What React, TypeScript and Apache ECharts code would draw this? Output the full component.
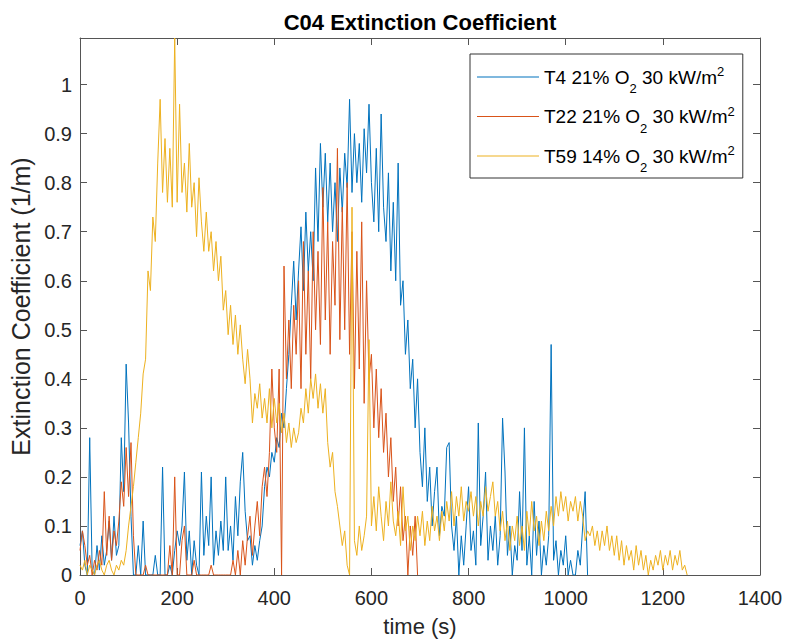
import React, { useEffect, useRef } from 'react';
import * as echarts from 'echarts';

const STEP = 5;

// T4 21% O2 30 kW/m2 (blue), t = 0 .. 1045 s
const T4 = [
  0.06, 0.09, 0.02, 0.00, 0.28, 0.01, 0.00, 0.06, 0.01, 0.08,
  0.02, 0.05, 0.11, 0.03, 0.12, 0.04, 0.06, 0.28, 0.17, 0.43,
  0.31, 0.12, 0.00, 0.00, 0.06, 0.00, 0.11, 0.00, 0.00, 0.00,
  0.00, 0.04, 0.00, 0.00, 0.22, 0.00, 0.00, 0.02, 0.00, 0.05,
  0.09, 0.06, 0.10, 0.21, 0.03, 0.09, 0.00, 0.07, 0.02, 0.00,
  0.21, 0.04, 0.12, 0.06, 0.20, 0.02, 0.09, 0.04, 0.11, 0.05,
  0.20, 0.05, 0.10, 0.03, 0.16, 0.08, 0.19, 0.25, 0.13, 0.07,
  0.08, 0.02, 0.06, 0.03, 0.07, 0.10, 0.18, 0.22, 0.20, 0.25,
  0.23, 0.28, 0.26, 0.33, 0.30, 0.38, 0.45, 0.55, 0.64, 0.52,
  0.62, 0.71, 0.58, 0.74, 0.62, 0.70, 0.60, 0.83, 0.68, 0.88,
  0.75, 0.86, 0.72, 0.84, 0.70, 0.80, 0.68, 0.83, 0.74, 0.86,
  0.79, 0.97, 0.78, 0.90, 0.80, 0.88, 0.76, 0.91, 0.82, 0.96,
  0.80, 0.72, 0.87, 0.70, 0.94, 0.75, 0.68, 0.82, 0.62, 0.76,
  0.60, 0.84, 0.55, 0.60, 0.45, 0.52, 0.38, 0.44, 0.30, 0.40,
  0.25, 0.18, 0.30, 0.15, 0.22, 0.10, 0.17, 0.22, 0.08, 0.14,
  0.12, 0.26, 0.27, 0.10, 0.05, 0.12, 0.00, 0.08, 0.02, 0.10,
  0.18, 0.05, 0.09, 0.02, 0.31, 0.06, 0.12, 0.21, 0.03, 0.10,
  0.05, 0.12, 0.02, 0.08, 0.32, 0.21, 0.04, 0.10, 0.00, 0.06,
  0.03, 0.17, 0.05, 0.30, 0.02, 0.08, 0.00, 0.15, 0.04, 0.11,
  0.00, 0.06, 0.02, 0.08, 0.47, 0.03, 0.07, 0.00, 0.05, 0.02,
  0.08, 0.00, 0.03, 0.00, 0.00, 0.05, 0.02, 0.10, 0.17, 0.00,
];

// T22 21% O2 30 kW/m2 (orange), t = 0 .. 695 s
const T22 = [
  0.05, 0.09, 0.06, 0.02, 0.04, 0.00, 0.03, 0.01, 0.05, 0.02,
  0.17, 0.04, 0.12, 0.03, 0.09, 0.06, 0.11, 0.19, 0.14, 0.26,
  0.16, 0.27, 0.08, 0.00, 0.00, 0.00, 0.00, 0.02, 0.00, 0.00,
  0.00, 0.00, 0.00, 0.00, 0.00, 0.00, 0.00, 0.06, 0.00, 0.20,
  0.00, 0.00, 0.07, 0.10, 0.00, 0.00, 0.00, 0.03, 0.00, 0.00,
  0.00, 0.00, 0.00, 0.00, 0.02, 0.00, 0.00, 0.00, 0.00, 0.00,
  0.00, 0.00, 0.00, 0.03, 0.00, 0.05, 0.00, 0.07, 0.02, 0.08,
  0.12, 0.04, 0.10, 0.15, 0.08, 0.18, 0.22, 0.16, 0.25, 0.42,
  0.30, 0.25, 0.42, 0.00, 0.63, 0.40, 0.52, 0.38, 0.55, 0.45,
  0.60, 0.38, 0.68, 0.45, 0.62, 0.40, 0.70, 0.50, 0.66, 0.47,
  0.79, 0.52, 0.72, 0.45, 0.68, 0.55, 0.87, 0.48, 0.75, 0.50,
  0.80, 0.45, 0.70, 0.38, 0.66, 0.42, 0.72, 0.35, 0.60, 0.40,
  0.45, 0.30, 0.42, 0.28, 0.38, 0.25, 0.33, 0.20, 0.28, 0.15,
  0.22, 0.10, 0.18, 0.07, 0.12, 0.00, 0.10, 0.04, 0.12, 0.00,
];

// T59 14% O2 30 kW/m2 (yellow), t = 0 .. 1250 s
const T59 = [
  0.02, 0.01, 0.03, 0.00, 0.02, 0.01, 0.00, 0.02, 0.03, 0.01,
  0.00, 0.02, 0.03, 0.01, 0.00, 0.02, 0.01, 0.03, 0.02, 0.05,
  0.10, 0.14, 0.18, 0.23, 0.28, 0.33, 0.41, 0.44, 0.62, 0.58,
  0.73, 0.68, 0.84, 0.97, 0.78, 0.89, 0.76, 0.87, 0.75, 1.095,
  0.76, 0.96, 0.78, 0.84, 0.74, 0.88, 0.75, 0.80, 0.69, 0.81,
  0.72, 0.66, 0.74, 0.66, 0.70, 0.62, 0.68, 0.60, 0.65, 0.54,
  0.58, 0.49, 0.55, 0.47, 0.53, 0.45, 0.51, 0.44, 0.39, 0.46,
  0.40, 0.31, 0.37, 0.34, 0.39, 0.32, 0.36, 0.31, 0.38, 0.30,
  0.36, 0.31, 0.35, 0.29, 0.33, 0.27, 0.31, 0.26, 0.30, 0.27,
  0.29, 0.34, 0.31, 0.38, 0.33, 0.40, 0.36, 0.41, 0.34, 0.39,
  0.33, 0.38, 0.27, 0.22, 0.25, 0.17, 0.14, 0.10, 0.06, 0.09,
  0.02, 0.00, 0.75, 0.07, 0.04, 0.10, 0.05, 0.08, 0.12, 0.48,
  0.10, 0.16, 0.09, 0.18, 0.12, 0.07, 0.15, 0.10, 0.19, 0.11,
  0.08, 0.13, 0.06, 0.18, 0.09, 0.12, 0.05, 0.10, 0.07, 0.12,
  0.08, 0.13, 0.06, 0.11, 0.07, 0.14, 0.09, 0.12, 0.07, 0.13,
  0.09, 0.15, 0.11, 0.17, 0.10, 0.16, 0.12, 0.18, 0.11, 0.15,
  0.13, 0.17, 0.12, 0.16, 0.10, 0.15, 0.12, 0.18, 0.13, 0.16,
  0.19, 0.12, 0.15, 0.09, 0.13, 0.07, 0.11, 0.05, 0.10, 0.07,
  0.12, 0.06, 0.10, 0.05, 0.13, 0.08, 0.15, 0.09, 0.12, 0.06,
  0.11, 0.07, 0.13, 0.09, 0.14, 0.10, 0.16, 0.12, 0.17, 0.13,
  0.16, 0.11, 0.15, 0.13, 0.16, 0.11, 0.15, 0.12, 0.07, 0.09,
  0.08, 0.10, 0.06, 0.09, 0.05, 0.09, 0.06, 0.10, 0.05, 0.08,
  0.04, 0.08, 0.03, 0.07, 0.02, 0.06, 0.03, 0.05, 0.01, 0.06,
  0.02, 0.05, 0.01, 0.04, 0.00, 0.03, 0.01, 0.04, 0.02, 0.05,
  0.01, 0.04, 0.02, 0.05, 0.01, 0.04, 0.02, 0.05, 0.01, 0.02, 0.00,
];

const SERIES_NAMES = ['T4 21% O2 30 kW/m2', 'T22 21% O2 30 kW/m2', 'T59 14% O2 30 kW/m2'];
const LEGEND_LABELS = [
  'T4 21% O{sub|2} 30 kW/m{sup|2}',
  'T22 21% O{sub|2} 30 kW/m{sup|2}',
  'T59 14% O{sub|2} 30 kW/m{sup|2}',
];
const SERIES_VALUES = [T4, T22, T59];
const COLORS = ['#0072BD', '#D95319', '#EDB120'];

const TITLE = 'C04 Extinction Coefficient';
const X_NAME = 'time (s)';
const Y_NAME = 'Extinction Coefficient (1/m)';
const X_MIN = 0, X_MAX = 1400, X_STEP = 200;
const Y_MIN = 0, Y_MAX = 1.095, Y_STEP = 0.1;

const FONT = '"Liberation Sans", Arial, Helvetica, sans-serif';
const AXIS_COLOR = '#555555';
const TEXT_COLOR = '#262626';

export default function App() {
  const ref = useRef<HTMLDivElement>(null);

  useEffect(() => {
    if (!ref.current) return;
    const chart = echarts.init(ref.current, undefined, { renderer: 'svg' });

    const axisLine = { show: true, onZero: false, lineStyle: { color: AXIS_COLOR, width: 1 } };
    const axisTick = { show: true, inside: true, length: 7, lineStyle: { color: AXIS_COLOR, width: 1 } };

    const option: any = {
      animation: false,
      textStyle: { fontFamily: FONT },
      title: {
        text: TITLE,
        left: 420,
        top: 11,
        textAlign: 'center',
        padding: 0,
        textStyle: { fontSize: 22, fontWeight: 'bold', color: '#000', fontFamily: FONT },
      },
      grid: { left: 80, right: 27, top: 38, bottom: 67, show: false },
      legend: {
        orient: 'vertical',
        left: 470,
        top: 54,
        padding: [5, 8, 4, 7],
        itemGap: 3.5,
        itemWidth: 62,
        itemHeight: 1,
        icon: 'rect',
        backgroundColor: '#ffffff',
        borderColor: '#333333',
        borderWidth: 1,
        borderRadius: 0,
        data: SERIES_NAMES,
        selectedMode: false,
        formatter: (name: string) => LEGEND_LABELS[SERIES_NAMES.indexOf(name)],
        textStyle: {
          fontSize: 19,
          color: '#000',
          fontFamily: FONT,
          lineHeight: 36,
          rich: {
            sub: { fontSize: 13, verticalAlign: 'bottom', fontFamily: FONT, color: '#000' },
            sup: { fontSize: 13, verticalAlign: 'top', padding: [6, 0, 0, 0], fontFamily: FONT, color: '#000' },
          },
        },
      },
      xAxis: [
        {
          type: 'value',
          min: X_MIN,
          max: X_MAX,
          interval: X_STEP,
          position: 'bottom',
          name: X_NAME,
          nameLocation: 'middle',
          nameGap: 40,
          nameTextStyle: { fontSize: 22, color: TEXT_COLOR, fontFamily: FONT },
          axisLine,
          axisTick,
          axisLabel: {
            fontSize: 20,
            color: TEXT_COLOR,
            margin: 13,
            fontFamily: FONT,
            formatter: (v: number) => String(v),
          },
          splitLine: { show: false },
        },
        {
          type: 'value',
          min: X_MIN,
          max: X_MAX,
          interval: X_STEP,
          position: 'top',
          axisLine,
          axisTick,
          axisLabel: { show: false },
          splitLine: { show: false },
        },
      ],
      yAxis: [
        {
          type: 'value',
          min: Y_MIN,
          max: Y_MAX,
          interval: Y_STEP,
          position: 'left',
          name: Y_NAME,
          nameLocation: 'middle',
          nameGap: 44,
          nameTextStyle: { fontSize: 25, color: TEXT_COLOR, fontFamily: FONT },
          axisLine,
          axisTick,
          axisLabel: { fontSize: 20, color: TEXT_COLOR, margin: 8, showMaxLabel: false, fontFamily: FONT },
          splitLine: { show: false },
        },
        {
          type: 'value',
          min: Y_MIN,
          max: Y_MAX,
          interval: Y_STEP,
          position: 'right',
          axisLine,
          axisTick,
          axisLabel: { show: false },
          splitLine: { show: false },
        },
      ],
      series: SERIES_NAMES.map((name, k) => ({
        name,
        type: 'line',
        xAxisIndex: 0,
        yAxisIndex: 0,
        data: SERIES_VALUES[k].map((v, i) => [i * STEP, v]),
        showSymbol: false,
        symbol: 'none',
        silent: true,
        color: COLORS[k],
        lineStyle: { width: 1, color: COLORS[k] },
        itemStyle: { color: COLORS[k] },
        emphasis: { disabled: true },
        z: 2 + k,
      })),
    };

    chart.setOption(option);
    return () => {
      chart.dispose();
    };
  }, []);

  return (
    <div
      ref={ref}
      style={{ position: 'absolute', left: 0, top: 0, width: 787, height: 642, background: '#fff' }}
    />
  );
}
